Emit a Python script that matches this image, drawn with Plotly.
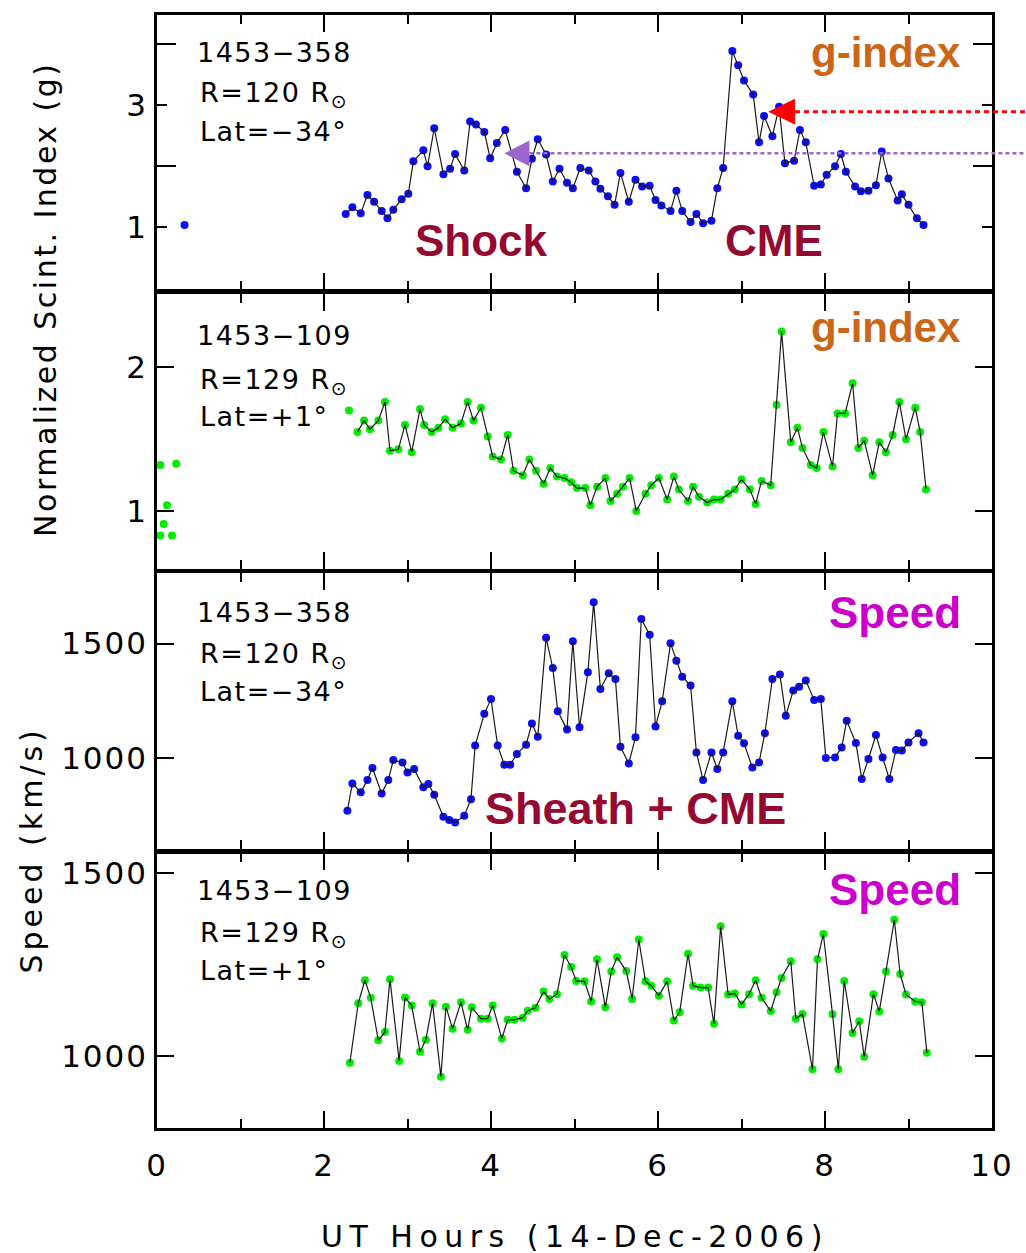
import plotly.graph_objects as go

# ---------------- data ----------------
# Panel 1: 1453-358 g-index
g1_iso_t = [0.33]
g1_iso_v = [1.04]
g1_t = [2.26, 2.34, 2.44, 2.52, 2.60, 2.69, 2.76, 2.83, 2.93, 3.01,
        3.07, 3.19, 3.24, 3.32, 3.43, 3.51, 3.57, 3.68, 3.75, 3.82,
        3.92, 3.99, 4.07, 4.17, 4.31, 4.42, 4.49, 4.56, 4.66, 4.74,
        4.82, 4.91, 4.98, 5.07, 5.17, 5.25, 5.31, 5.40, 5.48, 5.55,
        5.65, 5.73, 5.81, 5.90, 5.97, 6.04, 6.15, 6.22, 6.29, 6.39,
        6.46, 6.54, 6.64, 6.71, 6.78, 6.89, 6.96, 7.03, 7.14, 7.21,
        7.27, 7.37, 7.45, 7.52, 7.63, 7.70, 7.77, 7.87, 7.95, 8.02,
        8.12, 8.19, 8.25, 8.36, 8.43, 8.52, 8.61, 8.68, 8.76, 8.87,
        8.92, 9.00, 9.10, 9.18]
g1_v = [1.22, 1.33, 1.23, 1.53, 1.42, 1.27, 1.15, 1.29, 1.46, 1.55,
        2.08, 2.26, 2.00, 2.62, 1.87, 1.96, 2.20, 1.93, 2.73, 2.68,
        2.56, 2.13, 2.38, 2.59, 1.91, 1.64, 2.12, 2.44, 2.19, 1.75,
        1.96, 1.73, 1.64, 1.97, 1.93, 1.75, 1.63, 1.51, 1.37, 1.89,
        1.42, 1.78, 1.67, 1.68, 1.45, 1.36, 1.27, 1.60, 1.27, 1.09,
        1.22, 1.07, 1.11, 1.64, 1.97, 3.88, 3.65, 3.40, 3.17, 2.39,
        2.82, 2.49, 2.97, 2.05, 2.09, 2.59, 2.39, 1.68, 1.70, 1.86,
        2.00, 2.20, 1.91, 1.67, 1.59, 1.60, 1.69, 2.24, 1.80, 1.44,
        1.54, 1.37, 1.15, 1.04]

# Panel 2: 1453-109 g-index
g2_iso_t = [0.04, 0.23, 0.12, 0.08, 0.04, 0.18, 2.30]
g2_iso_v = [1.32, 1.33, 1.04, 0.91, 0.83, 0.83, 1.70]
g2_t = [2.40, 2.48, 2.55, 2.65, 2.73, 2.79, 2.89, 2.97, 3.05, 3.15,
        3.20, 3.29, 3.37, 3.45, 3.54, 3.64, 3.72, 3.79, 3.88, 3.96,
        4.02, 4.12, 4.20, 4.27, 4.38, 4.46, 4.54, 4.63, 4.71, 4.79,
        4.88, 4.96, 5.03, 5.13, 5.19, 5.27, 5.37, 5.43, 5.51, 5.58,
        5.66, 5.74, 5.85, 5.92, 6.01, 6.11, 6.19, 6.25, 6.36, 6.42,
        6.49, 6.59, 6.67, 6.75, 6.84, 6.92, 7.00, 7.10, 7.17, 7.24,
        7.35, 7.42, 7.48, 7.59, 7.67, 7.73, 7.83, 7.90, 7.98, 8.09,
        8.15, 8.24, 8.33, 8.40, 8.47, 8.57, 8.65, 8.73, 8.81, 8.89,
        8.97, 9.08, 9.14, 9.21]
g2_v = [1.55, 1.63, 1.57, 1.63, 1.76, 1.42, 1.43, 1.60, 1.41, 1.71,
        1.60, 1.55, 1.58, 1.64, 1.58, 1.61, 1.76, 1.63, 1.72, 1.52,
        1.38, 1.36, 1.53, 1.28, 1.25, 1.36, 1.28, 1.19, 1.30, 1.24,
        1.23, 1.20, 1.16, 1.16, 1.04, 1.17, 1.23, 1.07, 1.12, 1.17,
        1.23, 1.00, 1.12, 1.18, 1.23, 1.08, 1.24, 1.15, 1.07, 1.17,
        1.10, 1.06, 1.08, 1.08, 1.12, 1.15, 1.22, 1.15, 1.05, 1.21,
        1.18, 1.74, 2.25, 1.48, 1.58, 1.44, 1.32, 1.30, 1.55, 1.31,
        1.68, 1.68, 1.89, 1.44, 1.49, 1.25, 1.48, 1.41, 1.53, 1.76,
        1.50, 1.72, 1.55, 1.15]

# Panel 3: 1453-358 speed (km/s)
s1_t = [2.28, 2.34, 2.44, 2.52, 2.58, 2.69, 2.77, 2.83, 2.94, 3.00,
        3.08, 3.19, 3.25, 3.32, 3.43, 3.50, 3.57, 3.68, 3.76, 3.81,
        3.92, 4.00, 4.08, 4.16, 4.23, 4.31, 4.42, 4.49, 4.56, 4.66,
        4.74, 4.80, 4.91, 4.98, 5.06, 5.16, 5.23, 5.31, 5.41, 5.49,
        5.55, 5.65, 5.73, 5.80, 5.90, 5.97, 6.05, 6.15, 6.22, 6.29,
        6.39, 6.46, 6.54, 6.64, 6.71, 6.78, 6.89, 6.96, 7.03, 7.13,
        7.21, 7.28, 7.37, 7.46, 7.53, 7.62, 7.69, 7.77, 7.87, 7.95,
        8.01, 8.12, 8.20, 8.26, 8.37, 8.44, 8.52, 8.61, 8.69, 8.77,
        8.85, 8.92, 9.00, 9.12, 9.18]
s1_v = [768, 887, 848, 902, 955, 843, 902, 990, 979, 935,
        950, 870, 885, 838, 741, 727, 716, 746, 818, 1053,
        1192, 1257, 1053, 969, 969, 1016, 1057, 1150, 1092, 1525,
        1393, 1203, 1123, 1510, 1133, 1374, 1681, 1301, 1370, 1345,
        1048, 975, 1089, 1608, 1539, 1137, 1247, 1501, 1425, 1355,
        1316, 1023, 902, 1023, 950, 1023, 1247, 1096, 1063, 957,
        979, 1107, 1345, 1364, 1184, 1294, 1311, 1338, 1253, 1257,
        999, 1001, 1045, 1162, 1064, 907, 994, 1099, 1001, 907,
        1034, 1031, 1067, 1107, 1067]

# Panel 4: 1453-109 speed (km/s)
s2_t = [2.31, 2.41, 2.49, 2.56, 2.65, 2.73, 2.79, 2.90, 2.97, 3.05,
        3.15, 3.22, 3.30, 3.40, 3.46, 3.54, 3.64, 3.72, 3.77, 3.88,
        3.96, 4.02, 4.13, 4.20, 4.28, 4.38, 4.44, 4.53, 4.63, 4.70,
        4.79, 4.88, 4.96, 5.02, 5.12, 5.20, 5.27, 5.37, 5.44, 5.51,
        5.62, 5.69, 5.77, 5.85, 5.92, 6.01, 6.11, 6.19, 6.26, 6.36,
        6.42, 6.51, 6.60, 6.67, 6.75, 6.84, 6.92, 7.00, 7.09, 7.17,
        7.24, 7.35, 7.42, 7.48, 7.59, 7.65, 7.73, 7.85, 7.91, 7.98,
        8.09, 8.16, 8.23, 8.33, 8.41, 8.47, 8.58, 8.65, 8.73, 8.83,
        8.90, 8.97, 9.08, 9.16, 9.22]
s2_v = [982, 1144, 1207, 1159, 1043, 1066, 1210, 987, 1160, 1138,
        1012, 1045, 1144, 944, 1135, 1075, 1147, 1072, 1133, 1102,
        1102, 1138, 1048, 1099, 1099, 1105, 1124, 1132, 1176, 1156,
        1169, 1276, 1243, 1205, 1204, 1149, 1264, 1133, 1231, 1270,
        1232, 1156, 1318, 1204, 1192, 1165, 1204, 1097, 1120, 1279,
        1192, 1187, 1187, 1088, 1354, 1168, 1171, 1141, 1169, 1207,
        1159, 1123, 1174, 1213, 1259, 1102, 1115, 964, 1264, 1333,
        1114, 964, 1205, 1063, 1095, 998, 1169, 1122, 1231, 1372,
        1224, 1168, 1149, 1147, 1009]

x_ticks = [0, 2, 4, 6, 8, 10]
x_minor = [1, 3, 5, 7, 9]
g1_ticks = [1, 3]
g1_minor = [2, 4]
g2_ticks = [1, 2]
s_ticks = [1000, 1500]

# arrow markers (panel 1, data coordinates)
red_arrow = dict(tip=7.32, base=7.64, level=2.89)
purple_arrow = dict(tip=4.16, base=4.46, level=2.21)

# ---------------- layout geometry ----------------
W, H = 1026, 1253
ML, MR, MT, MB = 157, 29, 12, 125
PW = W - ML - MR
PH = H - MT - MB

panel_px = [(12, 287), (292, 567), (572, 848), (853, 1128)]
domains = [((H - MB - b) / PH, (H - MB - t) / PH) for (t, b) in panel_px]
y_ranges = [[-0.01, 4.47], [0.60, 2.51], [601, 1807], [804, 1552]]
X_RANGE = [0, 10]


def ppx(xp, yp):
    return (xp - ML) / PW, (H - MB - yp) / PH


def data_to_paper(i, xv, yv):
    d0, d1 = domains[i]
    r0, r1 = y_ranges[i]
    return (xv - X_RANGE[0]) / (X_RANGE[1] - X_RANGE[0]), d0 + (yv - r0) / (r1 - r0) * (d1 - d0)


def spaced(s, px):
    return f'<span style="letter-spacing:{px}px">{s}</span>'


BLUE = "#0c0cff"
GREEN = "#00ee00"
LINE = "#1a1a1a"
FONT = "DejaVu Sans"
BOLD = "Liberation Sans"

fig = go.Figure()


def add_series(t, v, color, axis_i, iso_t=None, iso_v=None):
    xa = "x" if axis_i == 1 else f"x{axis_i}"
    ya = "y" if axis_i == 1 else f"y{axis_i}"
    if iso_t:
        fig.add_trace(go.Scatter(x=iso_t, y=iso_v, mode="markers",
                                 marker=dict(color=color, size=8, line=dict(width=0)),
                                 xaxis=xa, yaxis=ya, showlegend=False, hoverinfo="skip"))
    fig.add_trace(go.Scatter(x=t, y=v, mode="markers",
                             marker=dict(color=color, size=8, line=dict(width=0)),
                             xaxis=xa, yaxis=ya, showlegend=False, hoverinfo="skip"))
    fig.add_trace(go.Scatter(x=t, y=v, mode="lines",
                             line=dict(color=LINE, width=1.2),
                             xaxis=xa, yaxis=ya, showlegend=False, hoverinfo="skip"))


add_series(g1_t, g1_v, BLUE, 1, g1_iso_t, g1_iso_v)
add_series(g2_t, g2_v, GREEN, 2, g2_iso_t, g2_iso_v)
add_series(s1_t, s1_v, BLUE, 3)
add_series(s2_t, s2_v, GREEN, 4)

layout = dict(width=W, height=H, margin=dict(l=ML, r=MR, t=MT, b=MB, pad=0),
              paper_bgcolor="white", plot_bgcolor="white", showlegend=False,
              font=dict(family=FONT, size=28, color="black"))

TICKFONT = dict(family=FONT, size=31, color="black")

for i in range(4):
    n = "" if i == 0 else str(i + 1)
    xaxis = dict(domain=[0, 1], range=X_RANGE, anchor=f"y{n}",
                 showline=True, linewidth=2.5, linecolor="black", mirror="ticks",
                 ticks="inside", ticklen=17, tickwidth=1.6, tickcolor="black",
                 tickvals=x_ticks, ticktext=[spaced(str(v), 2) for v in x_ticks],
                 showgrid=False, zeroline=False,
                 minor=dict(tickvals=x_minor, ticks="inside", ticklen=9, tickwidth=1.6,
                            tickcolor="black", showgrid=False),
                 showticklabels=(i == 3),
                 tickfont=TICKFONT,
                 ticklabelstandoff=8)
    if i > 0:
        xaxis["matches"] = "x"
    if i == 0:
        yt, ym, tl, ml = g1_ticks, g1_minor, 10, 19
    elif i == 1:
        yt, ym, tl, ml = g2_ticks, [], 17, 9
    else:
        yt, ym, tl, ml = s_ticks, [], 17, 9
    yaxis = dict(domain=list(domains[i]), range=y_ranges[i], anchor=f"x{n}",
                 showline=True, linewidth=2.5, linecolor="black", mirror="ticks",
                 ticks="inside", ticklen=tl, tickwidth=1.6, tickcolor="black",
                 tickvals=yt, ticktext=[spaced(str(v), 2) for v in yt],
                 showgrid=False, zeroline=False,
                 tickfont=TICKFONT)
    if ym:
        yaxis["minor"] = dict(tickvals=ym, ticks="inside", ticklen=ml, tickwidth=1.6,
                              tickcolor="black", showgrid=False)
    layout[f"xaxis{n}"] = xaxis
    layout[f"yaxis{n}"] = yaxis

fig.update_layout(**layout)

# ---------------- annotations ----------------
ann = []


def text(xp, yp, s, size=27, color="black", family=FONT, xanchor="left", bold=False):
    x, y = ppx(xp, yp)
    ann.append(dict(x=x, y=y, xref="paper", yref="paper", text=(f"<b>{s}</b>" if bold else s),
                    showarrow=False, xanchor=xanchor, yanchor="middle",
                    font=dict(family=family, size=size, color=color)))


ORANGE = "#cc6616"
MAROON = "#940a30"
MAGENTA = "#cc00cc"

src_labels = [
    ("1453\u2212358", "R=120 R<sub>\u2299</sub>", "Lat=\u221234\u00b0"),
    ("1453\u2212109", "R=129 R<sub>\u2299</sub>", "Lat=+1\u00b0"),
    ("1453\u2212358", "R=120 R<sub>\u2299</sub>", "Lat=\u221234\u00b0"),
    ("1453\u2212109", "R=129 R<sub>\u2299</sub>", "Lat=+1\u00b0"),
]
label_y = [(50, 92, 129), (333, 379, 415), (611, 654, 690), (890, 934, 970)]
for (a, b, c), (y0, y1, y2) in zip(src_labels, label_y):
    text(195, y0, spaced(a, 1.5))
    text(198, y1, spaced(b, 1.5))
    text(198, y2, spaced(c, 1.5))

text(968, 50, "g-index", size=42, color=ORANGE, family=BOLD, xanchor="right", bold=True)
text(968, 325, "g-index", size=42, color=ORANGE, family=BOLD, xanchor="right", bold=True)
text(968, 611, "Speed", size=44, color=MAGENTA, family=BOLD, xanchor="right", bold=True)
text(968, 889, "Speed", size=44, color=MAGENTA, family=BOLD, xanchor="right", bold=True)
text(415, 238, "Shock", size=44, color=MAROON, family=BOLD, bold=True)
text(726, 238, "CME", size=44, color=MAROON, family=BOLD, bold=True)
text(485, 808, "Sheath + CME", size=45, color=MAROON, family=BOLD, bold=True)

# axis titles
x, y = ppx(45, 297)
ann.append(dict(x=x, y=y, xref="paper", yref="paper",
                text=spaced("Normalized Scint. Index (g)", 2.5),
                showarrow=False, textangle=-90, xanchor="center", yanchor="middle",
                font=dict(family=FONT, size=30, color="black")))
x, y = ppx(31, 849)
ann.append(dict(x=x, y=y, xref="paper", yref="paper", text=spaced("Speed (km/s)", 4),
                showarrow=False, textangle=-90, xanchor="center", yanchor="middle",
                font=dict(family=FONT, size=30, color="black")))
x, y = ppx(578, 1237)
ann.append(dict(x=x, y=y, xref="paper", yref="paper", text=spaced("UT Hours (14-Dec-2006)", 6.5),
                showarrow=False, xanchor="center", yanchor="middle",
                font=dict(family=FONT, size=30, color="black")))

fig.update_layout(annotations=ann)

# ---------------- arrows ----------------
shapes = []
for arr, col, lw, dash, half in [(red_arrow, "#ff0000", 3, "5px,4px", 0.21),
                                 (purple_arrow, "#9a66cc", 2.5, "4px,3px", 0.21)]:
    x0, y0 = data_to_paper(0, arr["base"], arr["level"])
    x1 = (W - ML) / PW + 0.01
    shapes.append(dict(type="line", xref="paper", yref="paper", x0=x0, y0=y0, x1=x1, y1=y0,
                       line=dict(color=col, width=lw, dash=dash)))
    tip, base, lev = arr["tip"], arr["base"], arr["level"]
    shapes.append(dict(type="path", xref="x", yref="y",
                       path=f"M {tip},{lev} L {base},{lev + half} L {base},{lev - half} Z",
                       fillcolor=col, line=dict(color=col, width=0)))
fig.update_layout(shapes=shapes)

fig.write_html("out.html", config={"displayModeBar": False},
               post_script="document.body.style.margin='0';")
